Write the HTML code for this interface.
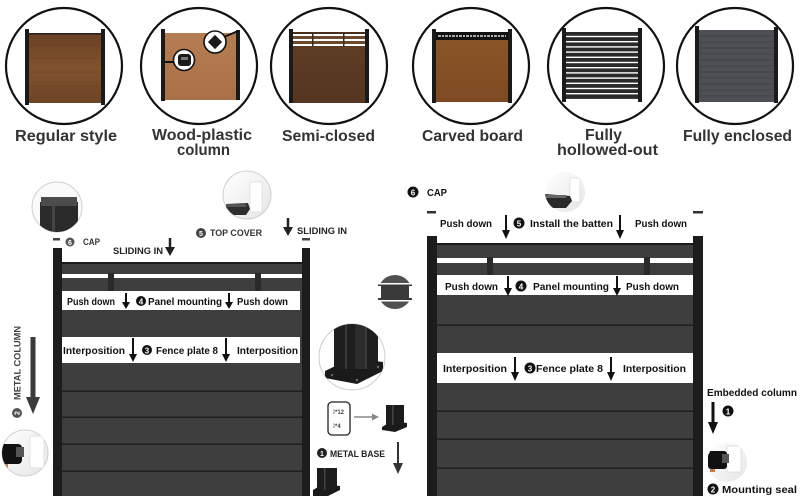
<!DOCTYPE html>
<html><head><meta charset="utf-8"><style>
html,body{margin:0;padding:0;background:#fff;}
svg{display:block;}
text{font-family:"Liberation Sans",sans-serif;font-weight:bold;}
</style></head><body>
<svg width="800" height="496" viewBox="0 0 800 496" xmlns="http://www.w3.org/2000/svg">
<defs>
<linearGradient id="br1" x1="0" y1="0" x2="0" y2="1"><stop offset="0" stop-color="#6a4024"/><stop offset="0.5" stop-color="#80532f"/><stop offset="1" stop-color="#6d4426"/></linearGradient>
<linearGradient id="br2" x1="0" y1="0" x2="0" y2="1"><stop offset="0" stop-color="#b47d52"/><stop offset="1" stop-color="#a87149"/></linearGradient>
<linearGradient id="br3" x1="0" y1="0" x2="0" y2="1"><stop offset="0" stop-color="#5e3c24"/><stop offset="1" stop-color="#553620"/></linearGradient>
<linearGradient id="br4" x1="0" y1="0" x2="0" y2="1"><stop offset="0" stop-color="#8a5426"/><stop offset="1" stop-color="#7e4a22"/></linearGradient>
<linearGradient id="lg" x1="0" y1="0" x2="1" y2="1"><stop offset="0" stop-color="#ffffff"/><stop offset="1" stop-color="#e6e6e6"/></linearGradient>
<clipPath id="capc"><circle cx="57" cy="207" r="25"/></clipPath>
<clipPath id="tcc"><circle cx="247" cy="195" r="24"/></clipPath>
<clipPath id="lbc"><circle cx="25" cy="453" r="23"/></clipPath>
<clipPath id="mbc"><circle cx="352" cy="357" r="33"/></clipPath>
<clipPath id="rtc"><circle cx="565" cy="192" r="20"/></clipPath>
<clipPath id="msc"><circle cx="727" cy="462" r="20"/></clipPath>
</defs>

<!-- ===== TOP ROW CIRCLES ===== -->
<g fill="#fff" stroke="#111" stroke-width="2.2">
<circle cx="64" cy="66" r="58"/>
<circle cx="199" cy="66" r="58"/>
<circle cx="329" cy="66" r="58"/>
<circle cx="471" cy="66" r="58"/>
<circle cx="606" cy="66" r="58"/>
<circle cx="735" cy="66" r="58"/>
</g>

<!-- C1 regular -->
<rect x="29" y="33" width="72" height="70" fill="url(#br1)"/>
<rect x="29" y="33" width="72" height="1.5" fill="#222"/>
<g stroke="#5a3519" stroke-width="0.5" opacity="0.6">
<line x1="29" y1="45" x2="101" y2="45"/><line x1="29" y1="58" x2="101" y2="58"/><line x1="29" y1="72" x2="101" y2="72"/><line x1="29" y1="86" x2="101" y2="86"/>
</g>
<rect x="25" y="29" width="4" height="76" fill="#1a1a1a"/>
<rect x="101" y="29" width="4" height="76" fill="#1a1a1a"/>

<!-- C2 wood-plastic -->
<rect x="165" y="33" width="71" height="67" fill="url(#br2)"/>
<rect x="161" y="29" width="4" height="72" fill="#1a1a1a"/>
<rect x="236" y="30" width="4" height="70" fill="#1a1a1a"/>
<line x1="165" y1="62" x2="175" y2="62" stroke="#111" stroke-width="2"/>
<line x1="224" y1="37" x2="238" y2="31" stroke="#111" stroke-width="2"/>
<circle cx="184" cy="60" r="10.5" fill="#fff" stroke="#111" stroke-width="1.6"/>
<rect x="178" y="54" width="13" height="12" rx="3" fill="#1a1a1a"/>
<rect x="181" y="57" width="7" height="3" fill="#777"/>
<circle cx="215" cy="42" r="11" fill="#fff" stroke="#111" stroke-width="1.6"/>
<rect x="210" y="37" width="10" height="10" fill="#1a1a1a" transform="rotate(45 215 42)"/>

<!-- C3 semi-closed -->
<rect x="293" y="32" width="72" height="71" fill="#fff"/>
<rect x="293" y="32" width="72" height="2" fill="#4a3020"/>
<rect x="293" y="36" width="72" height="3" fill="#6b4a30"/>
<rect x="293" y="41" width="72" height="3" fill="#6b4a30"/>
<rect x="293" y="46" width="72" height="57" fill="url(#br3)"/>
<rect x="312" y="33" width="1.5" height="13" fill="#3a2818"/>
<rect x="343" y="33" width="1.5" height="13" fill="#3a2818"/>
<rect x="289" y="29" width="4" height="74" fill="#1a1a1a"/>
<rect x="365" y="29" width="4" height="74" fill="#1a1a1a"/>

<!-- C4 carved -->
<rect x="436" y="32" width="72" height="8" fill="#111"/>
<line x1="438" y1="36" x2="506" y2="36" stroke="#ddd" stroke-width="1.6" stroke-dasharray="3 1 2 1"/>
<rect x="436" y="40" width="72" height="62" fill="url(#br4)"/>
<rect x="432" y="29" width="4" height="74" fill="#1a1a1a"/>
<rect x="508" y="29" width="4" height="74" fill="#1a1a1a"/>

<!-- C5 fully hollowed -->
<g fill="#2a2a2a">
<rect x="566" y="32" width="72" height="3.8"/>
<rect x="566" y="37.2" width="72" height="3.8"/>
<rect x="566" y="42.4" width="72" height="3.8"/>
<rect x="566" y="47.6" width="72" height="3.8"/>
<rect x="566" y="52.8" width="72" height="3.8"/>
<rect x="566" y="58" width="72" height="3.8"/>
<rect x="566" y="63.2" width="72" height="3.8"/>
<rect x="566" y="68.4" width="72" height="3.8"/>
<rect x="566" y="73.6" width="72" height="3.8"/>
<rect x="566" y="78.8" width="72" height="3.8"/>
<rect x="566" y="84" width="72" height="3.8"/>
<rect x="566" y="89.2" width="72" height="3.8"/>
<rect x="566" y="94.4" width="72" height="4.5"/>
</g>
<rect x="562" y="28" width="4" height="74" fill="#1a1a1a"/>
<rect x="638" y="28" width="4" height="74" fill="#1a1a1a"/>

<!-- C6 fully enclosed -->
<rect x="699" y="30" width="75" height="72" fill="#4c4f54"/>
<g stroke="#3c3f43" stroke-width="0.8">
<line x1="699" y1="36" x2="774" y2="36"/><line x1="699" y1="42" x2="774" y2="42"/><line x1="699" y1="48" x2="774" y2="48"/><line x1="699" y1="54" x2="774" y2="54"/><line x1="699" y1="60" x2="774" y2="60"/><line x1="699" y1="66" x2="774" y2="66"/><line x1="699" y1="72" x2="774" y2="72"/><line x1="699" y1="78" x2="774" y2="78"/><line x1="699" y1="84" x2="774" y2="84"/><line x1="699" y1="90" x2="774" y2="90"/><line x1="699" y1="96" x2="774" y2="96"/>
</g>
<rect x="695" y="26" width="4" height="77" fill="#1a1a1a"/>
<rect x="774" y="27" width="4" height="76" fill="#1a1a1a"/>

<!-- top labels -->
<g fill="#333" font-size="16">
<text x="15" y="141" textLength="102" lengthAdjust="spacingAndGlyphs">Regular style</text>
<text x="152" y="140" textLength="100" lengthAdjust="spacingAndGlyphs">Wood-plastic</text>
<text x="177" y="155" textLength="53" lengthAdjust="spacingAndGlyphs">column</text>
<text x="282" y="141" textLength="93" lengthAdjust="spacingAndGlyphs">Semi-closed</text>
<text x="422" y="141" textLength="101" lengthAdjust="spacingAndGlyphs">Carved board</text>
<text x="585" y="140" textLength="37" lengthAdjust="spacingAndGlyphs">Fully</text>
<text x="557" y="155" textLength="101" lengthAdjust="spacingAndGlyphs">hollowed-out</text>
<text x="683" y="141" textLength="109" lengthAdjust="spacingAndGlyphs">Fully enclosed</text>
</g>

<!-- ===== LEFT FENCE ===== -->
<rect x="62" y="262" width="240" height="234" fill="#3e3e3e"/>
<rect x="62" y="262" width="240" height="2" fill="#1a1a1a"/>
<rect x="62" y="274" width="240" height="4" fill="#fff"/>
<rect x="108" y="273" width="6" height="20" fill="#2a2a2a"/>
<rect x="255" y="273" width="6" height="20" fill="#2a2a2a"/>
<rect x="62" y="291" width="238" height="19" fill="#fff"/>
<rect x="62" y="337" width="238" height="26" fill="#fff"/>
<g fill="#1f1f1f">
<rect x="62" y="390.5" width="240" height="1.5"/>
<rect x="62" y="416.5" width="240" height="1.5"/>
<rect x="62" y="443.5" width="240" height="1.5"/>
<rect x="62" y="470.5" width="240" height="1.5"/>
</g>
<rect x="53" y="248" width="9" height="248" fill="#1c1c1c"/>
<rect x="302" y="248" width="8" height="248" fill="#1c1c1c"/>
<rect x="53" y="238" width="7" height="2.5" fill="#444"/>
<rect x="302" y="238" width="8" height="2.5" fill="#444"/>

<!-- left band 1 -->
<g font-size="10" fill="#111">
<text x="67" y="305" textLength="48" lengthAdjust="spacingAndGlyphs">Push down</text>
<text x="148" y="305" textLength="74" lengthAdjust="spacingAndGlyphs">Panel mounting</text>
<text x="237" y="305" textLength="51" lengthAdjust="spacingAndGlyphs">Push down</text>
<text x="63" y="354" textLength="62" lengthAdjust="spacingAndGlyphs">Interposition</text>
<text x="156" y="354" textLength="62" lengthAdjust="spacingAndGlyphs">Fence plate 8</text>
<text x="237" y="354" textLength="61" lengthAdjust="spacingAndGlyphs">Interposition</text>
</g>
<g stroke="#111" stroke-width="2">
<line x1="126" y1="293" x2="126" y2="303"/><line x1="229" y1="293" x2="229" y2="303"/>
<line x1="133" y1="338" x2="133" y2="355"/><line x1="226" y1="338" x2="226" y2="355"/>
</g>
<g fill="#111">
<polygon points="122,302 130,302 126,309"/><polygon points="225,302 233,302 229,309"/>
<polygon points="129,354 137,354 133,362"/><polygon points="222,354 230,354 226,362"/>
</g>
<circle cx="141" cy="301" r="5" fill="#111"/><text x="141" y="304.5" font-size="8" fill="#fff" text-anchor="middle">4</text>
<circle cx="147" cy="350" r="5" fill="#111"/><text x="147" y="353.5" font-size="8" fill="#fff" text-anchor="middle">3</text>

<!-- cap circle -->
<circle cx="57" cy="207" r="25" fill="#fafafa" stroke="#cfcfcf" stroke-width="1"/>
<g clip-path="url(#capc)">
<rect x="40" y="202" width="38" height="30" fill="#2a2a2a"/>
<rect x="41" y="197" width="36" height="9" fill="#4c4c4c"/>
<rect x="52" y="206" width="3" height="26" fill="#444"/>
</g>
<circle cx="70" cy="242" r="4.5" fill="#555"/><text x="70" y="245" font-size="7" fill="#fff" text-anchor="middle">6</text>
<text x="83" y="245" font-size="9" fill="#333" textLength="17" lengthAdjust="spacingAndGlyphs">CAP</text>

<text x="113" y="254" font-size="9.5" fill="#222" textLength="50" lengthAdjust="spacingAndGlyphs">SLIDING IN</text>
<line x1="170" y1="238" x2="170" y2="248" stroke="#222" stroke-width="2.5"/>
<polygon points="165,247 175,247 170,256" fill="#222"/>

<circle cx="247" cy="195" r="24" fill="url(#lg)" stroke="#cfcfcf" stroke-width="1"/>
<g clip-path="url(#tcc)">
<rect x="250" y="182" width="12" height="30" fill="#fff" stroke="#ddd" stroke-width="0.8"/>
<path d="M226 204 L248 203 L250 209 L246 215 L226 215 Z" fill="#2e2e2e"/>
<rect x="226" y="204" width="20" height="3" fill="#555"/>
</g>
<circle cx="201" cy="233" r="5" fill="#444"/><text x="201" y="236" font-size="7" fill="#fff" text-anchor="middle">5</text>
<text x="210" y="236" font-size="9" fill="#333" textLength="52" lengthAdjust="spacingAndGlyphs">TOP COVER</text>

<line x1="288" y1="218" x2="288" y2="228" stroke="#222" stroke-width="2.5"/>
<polygon points="283,227 293,227 288,236" fill="#222"/>
<text x="297" y="234" font-size="9.5" fill="#222" textLength="50" lengthAdjust="spacingAndGlyphs">SLIDING IN</text>

<!-- metal column -->
<text x="0" y="0" font-size="9.5" fill="#444" text-anchor="middle" textLength="74" lengthAdjust="spacingAndGlyphs" transform="translate(20.5 363) rotate(-90)">METAL COLUMN</text>
<circle cx="17" cy="413" r="5" fill="#555"/><text x="0" y="0" font-size="7" fill="#fff" text-anchor="middle" transform="translate(19.5 413) rotate(-90)">2</text>
<line x1="33" y1="337" x2="33" y2="400" stroke="#3a3a3a" stroke-width="5"/>
<polygon points="26,397 40,397 33,414" fill="#3a3a3a"/>

<circle cx="25" cy="453" r="23" fill="url(#lg)" stroke="#d0d0d0" stroke-width="1"/>
<g clip-path="url(#lbc)">
<rect x="30" y="436" width="14" height="32" fill="#fff" stroke="#ddd" stroke-width="0.8"/>
<rect x="0" y="444" width="22" height="20" rx="4" fill="#111"/>
<rect x="16" y="447" width="8" height="10" fill="#555"/>
<rect x="2" y="464" width="6" height="4" fill="#c87a4a"/>
</g>

<!-- ===== MIDDLE ITEMS ===== -->
<circle cx="395" cy="292" r="17" fill="#505050"/>
<rect x="378" y="284" width="34" height="16" fill="#3a3a3a"/>
<rect x="378" y="283" width="34" height="1.5" fill="#fff"/>
<rect x="378" y="300" width="34" height="1.5" fill="#fff"/>
<rect x="377" y="286" width="4" height="12" fill="#fff"/>
<rect x="409" y="286" width="4" height="12" fill="#fff"/>

<circle cx="352" cy="357" r="33" fill="#fff" stroke="#cccccc" stroke-width="1"/>
<g clip-path="url(#mbc)">
<polygon points="325,371 352,358 383,362 383,371 357,384 325,378" fill="#1a1a1a"/>
<rect x="334" y="322" width="44" height="47" fill="#1e1e1e"/>
<rect x="345" y="322" width="2" height="47" fill="#3a3a3a"/>
<rect x="365" y="322" width="2" height="47" fill="#3a3a3a"/>
<rect x="355" y="325" width="10" height="44" fill="#2c2c2c"/>
<circle cx="332" cy="375" r="1.2" fill="#666"/><circle cx="357" cy="380" r="1.2" fill="#666"/><circle cx="378" cy="367" r="1.2" fill="#666"/>
</g>

<rect x="328" y="402" width="22" height="33" rx="4" fill="#fff" stroke="#222" stroke-width="1.3"/>
<text x="333" y="414" font-size="6" fill="#444" font-weight="normal">⁞*12</text>
<text x="333" y="428" font-size="6" fill="#444" font-weight="normal">⁞*4</text>
<line x1="354" y1="417" x2="374" y2="417" stroke="#888" stroke-width="1.5"/>
<polygon points="372,413.5 379,417 372,420.5" fill="#888"/>
<polygon points="382,427 392,421 407,423 407,427 395,432 382,430" fill="#1a1a1a"/>
<rect x="386" y="405" width="18" height="20" fill="#1c1c1c"/>
<rect x="392" y="405" width="1.5" height="20" fill="#444"/>

<circle cx="322" cy="453" r="5" fill="#222"/><text x="322" y="456" font-size="7" fill="#fff" text-anchor="middle">1</text>
<text x="330" y="457" font-size="9" fill="#222" textLength="55" lengthAdjust="spacingAndGlyphs">METAL BASE</text>
<line x1="398" y1="442" x2="398" y2="465" stroke="#333" stroke-width="2"/>
<polygon points="393,463 403,463 398,474" fill="#333"/>

<polygon points="313,490 323,484 340,486 340,490 328,496 313,496" fill="#1a1a1a"/>
<rect x="317" y="468" width="20" height="22" fill="#1c1c1c"/>
<rect x="324" y="468" width="1.5" height="22" fill="#444"/>

<!-- ===== RIGHT FENCE ===== -->
<rect x="437" y="243" width="256" height="253" fill="#3e3e3e"/>
<rect x="437" y="243" width="256" height="2" fill="#1a1a1a"/>
<rect x="437" y="258" width="256" height="5" fill="#fff"/>
<rect x="487" y="257" width="6" height="23" fill="#2a2a2a"/>
<rect x="644" y="257" width="6" height="23" fill="#2a2a2a"/>
<rect x="437" y="275" width="256" height="20" fill="#fff"/>
<rect x="437" y="353" width="256" height="30" fill="#fff"/>
<g fill="#1f1f1f">
<rect x="437" y="324.5" width="256" height="1.5"/>
<rect x="437" y="410.5" width="256" height="1.5"/>
<rect x="437" y="438.5" width="256" height="1.5"/>
<rect x="437" y="467.5" width="256" height="1.5"/>
</g>
<rect x="427" y="236" width="10" height="260" fill="#1c1c1c"/>
<rect x="693" y="236" width="10" height="260" fill="#1c1c1c"/>
<rect x="427" y="211" width="9" height="2.5" fill="#333"/>
<rect x="693" y="211" width="10" height="2.5" fill="#333"/>

<g font-size="10.5" fill="#111">
<text x="440" y="227" textLength="52" lengthAdjust="spacingAndGlyphs">Push down</text>
<text x="530" y="227" textLength="83" lengthAdjust="spacingAndGlyphs">Install the batten</text>
<text x="635" y="227" textLength="52" lengthAdjust="spacingAndGlyphs">Push down</text>
<text x="445" y="290" textLength="53" lengthAdjust="spacingAndGlyphs">Push down</text>
<text x="533" y="290" textLength="76" lengthAdjust="spacingAndGlyphs">Panel mounting</text>
<text x="626" y="290" textLength="53" lengthAdjust="spacingAndGlyphs">Push down</text>
<text x="443" y="372" textLength="64" lengthAdjust="spacingAndGlyphs">Interposition</text>
<text x="536" y="372" textLength="67" lengthAdjust="spacingAndGlyphs">Fence plate 8</text>
<text x="623" y="372" textLength="63" lengthAdjust="spacingAndGlyphs">Interposition</text>
</g>
<g stroke="#111" stroke-width="2">
<line x1="506" y1="215" x2="506" y2="231"/><line x1="620" y1="215" x2="620" y2="231"/>
<line x1="508" y1="276" x2="508" y2="289"/><line x1="617" y1="276" x2="617" y2="289"/>
<line x1="515" y1="357" x2="515" y2="373"/><line x1="611" y1="357" x2="611" y2="373"/>
</g>
<g fill="#111">
<polygon points="502,230 510,230 506,239"/><polygon points="616,230 624,230 620,239"/>
<polygon points="504,288 512,288 508,296"/><polygon points="613,288 621,288 617,296"/>
<polygon points="511,372 519,372 515,381"/><polygon points="607,372 615,372 611,381"/>
</g>
<circle cx="519" cy="223" r="5.5" fill="#111"/><text x="519" y="226.5" font-size="8" fill="#fff" text-anchor="middle">5</text>
<circle cx="521" cy="286" r="5.5" fill="#111"/><text x="521" y="289.5" font-size="8" fill="#fff" text-anchor="middle">4</text>
<circle cx="530" cy="368" r="5.5" fill="#111"/><text x="530" y="371.5" font-size="8" fill="#fff" text-anchor="middle">3</text>

<circle cx="413" cy="192" r="5.5" fill="#111"/><text x="413" y="195.5" font-size="8" fill="#fff" text-anchor="middle">6</text>
<text x="427" y="196" font-size="10" fill="#111" textLength="20" lengthAdjust="spacingAndGlyphs">CAP</text>

<circle cx="565" cy="192" r="20" fill="url(#lg)"/>
<g clip-path="url(#rtc)">
<rect x="570" y="178" width="10" height="24" fill="#fff" stroke="#ddd" stroke-width="0.8"/>
<path d="M545 194 L570 196 L572 201 L566 208 L545 208 Z" fill="#2a2a2a"/>
<rect x="546" y="195" width="20" height="3" fill="#666"/>
</g>

<text x="707" y="396" font-size="10.5" fill="#111" textLength="90" lengthAdjust="spacingAndGlyphs">Embedded column</text>
<line x1="713" y1="402" x2="713" y2="424" stroke="#111" stroke-width="3"/>
<polygon points="708,422 718,422 713,434" fill="#111"/>
<circle cx="728" cy="411" r="5.5" fill="#111"/><text x="728" y="414.5" font-size="8" fill="#fff" text-anchor="middle">1</text>

<circle cx="727" cy="462" r="20" fill="url(#lg)"/>
<g clip-path="url(#msc)">
<rect x="727" y="446" width="14" height="26" fill="#fff" stroke="#ddd" stroke-width="0.8"/>
<rect x="708" y="451" width="19" height="18" rx="3" fill="#111"/>
<rect x="722" y="454" width="7" height="9" fill="#555"/>
<rect x="710" y="469" width="5" height="3" fill="#c87a4a"/>
</g>
<circle cx="713" cy="489" r="5.5" fill="#111"/><text x="713" y="492.5" font-size="8" fill="#fff" text-anchor="middle">2</text>
<text x="722" y="493" font-size="10.5" fill="#111" textLength="75" lengthAdjust="spacingAndGlyphs">Mounting seal</text>
</svg>
</body></html>
